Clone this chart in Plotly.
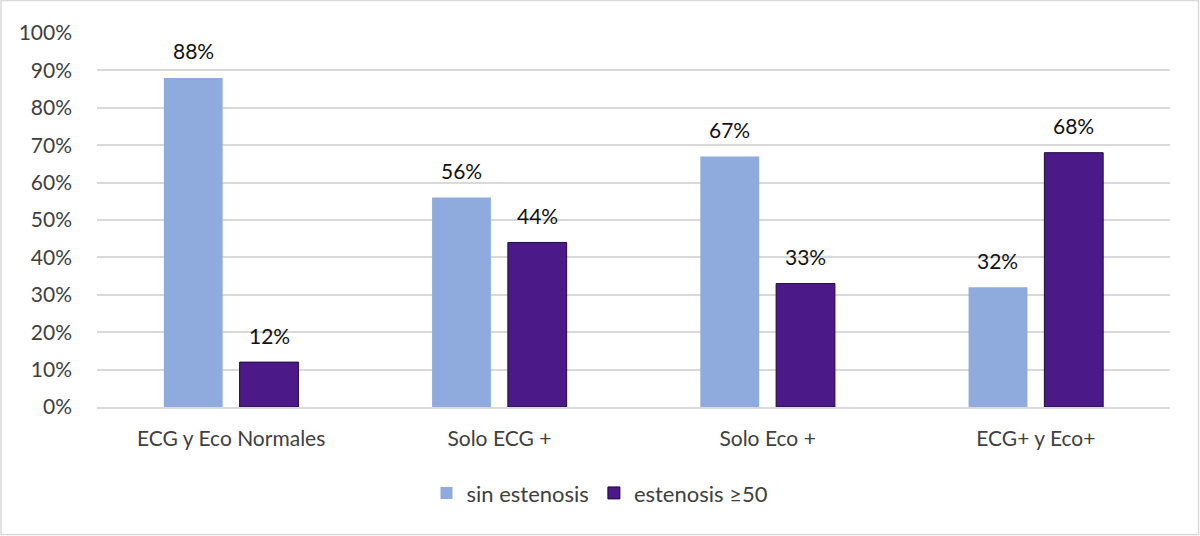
import plotly.graph_objects as go

categories = ["ECG y Eco Normales", "Solo ECG +", "Solo Eco +", "ECG+ y Eco+"]
sin_estenosis = [0.88, 0.56, 0.67, 0.32]
estenosis_50 = [0.12, 0.44, 0.33, 0.68]
series_names = ["sin estenosis", "estenosis ≥50"]
tick_vals = [i / 10 for i in range(11)]
tick_text = [f"{i*10}%" for i in range(11)]

FONT = "Lato, 'Open Sans', sans-serif"
TXT = "#404040"

W, H = 1200, 536
L, R, T, B = 97, 30, 33, 129
pw, ph = W - L - R, H - T - B

fig = go.Figure()
fig.add_trace(go.Bar(x=categories, y=sin_estenosis, name=series_names[0],
                     marker=dict(color="#8FAADC", line=dict(width=0))))
fig.add_trace(go.Bar(x=categories, y=estenosis_50, name=series_names[1],
                     marker=dict(color="#4C1A88", line=dict(color="#1E0A3C", width=1))))

ann = []
for vals, shift in ((sin_estenosis, -38), (estenosis_50, 38)):
    for c, v in zip(categories, vals):
        ann.append(dict(x=c, y=v, xref="x", yref="y", text=f"{round(v*100)}%",
                        showarrow=False, xshift=shift, yshift=27, yanchor="middle",
                        font=dict(family=FONT, size=21, color="#111111")))

fig.update_layout(
    width=W, height=H,
    margin=dict(l=L, r=R, t=T, b=B),
    paper_bgcolor="white", plot_bgcolor="white",
    barmode="group", bargap=0.435, bargroupgap=0.224,
    showlegend=True,
    legend=dict(orientation="h", x=0.5, xanchor="center", xref="container",
                y=0.08, yanchor="middle", yref="container",
                font=dict(family=FONT, size=22, color=TXT),
                itemwidth=30, traceorder="normal"),
    annotations=ann,
    shapes=[dict(type="rect", xref="paper", yref="paper",
                 x0=(1 - L) / pw, x1=(W - 1.5 - L) / pw,
                 y0=-(B - 1.5) / ph, y1=1 + (T - 0.5) / ph,
                 line=dict(color="#D9D9D9", width=1.5), fillcolor="rgba(0,0,0,0)")],
)
fig.update_xaxes(showgrid=False, showline=True, linecolor="#D9D9D9", linewidth=1.5,
                 ticks="", tickfont=dict(family=FONT, size=21, color=TXT), ticklabelstandoff=12)
fig.update_yaxes(range=[0, 1.0], tickvals=tick_vals, ticktext=tick_text,
                 showgrid=True, gridcolor="#D9D9D9", gridwidth=1.5, zeroline=False,
                 showline=False, ticks="", tickfont=dict(family=FONT, size=21, color=TXT),
                 ticklabelstandoff=24)

fig.write_html("out.html")
